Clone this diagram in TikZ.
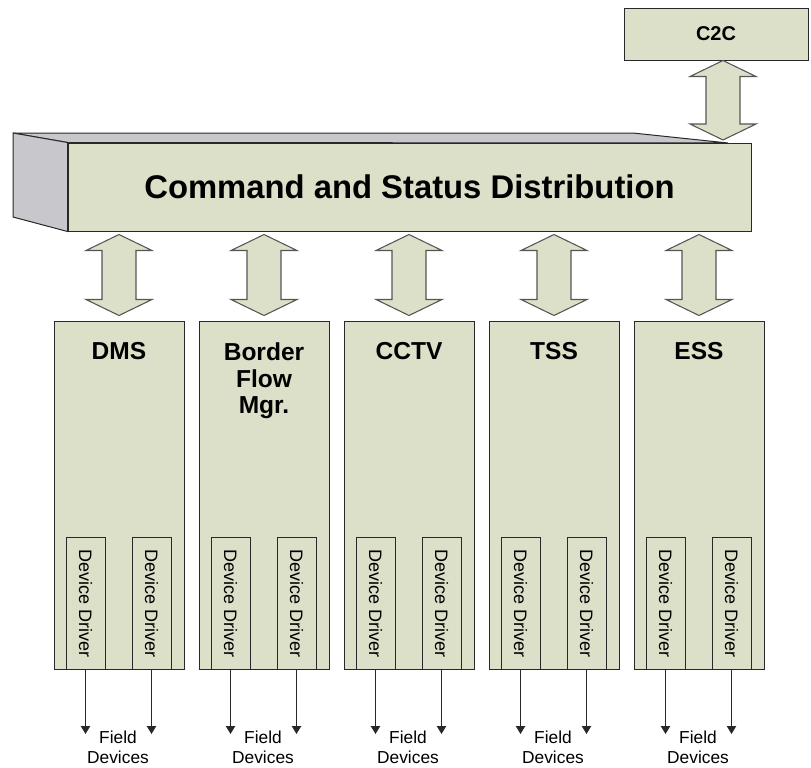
\documentclass[tikz,border=0pt]{standalone}
\usepackage{fontspec}
\setmainfont{Liberation Sans}
\usetikzlibrary{arrows.meta,calc}
\definecolor{boxfill}{RGB}{220,224,200}
\definecolor{sidefill}{RGB}{200,200,204}
\definecolor{edge}{RGB}{40,40,40}
\definecolor{arrowedge}{RGB}{85,85,85}
\newcommand\blockarrow[2]{%
  \filldraw[barrow] let \p1=(#1), \p2=(#2) in
  (\x1,\y1) -- (\x1+24.75pt,\y1-12pt) -- (\x1+12.75pt,\y1-12pt) --
  (\x2+12.75pt,\y2+12pt) -- (\x2+24.75pt,\y2+12pt) -- (\x2,\y2) --
  (\x2-24.75pt,\y2+12pt) -- (\x2-12.75pt,\y2+12pt) --
  (\x1-12.75pt,\y1-12pt) -- (\x1-24.75pt,\y1-12pt) -- cycle;}
\tikzset{
  x=0.75pt, y=-0.75pt,
  barrow/.style={draw=arrowedge, fill=boxfill, line width=0.8pt, line join=miter},
  sideface/.style={draw=edge, fill=sidefill, line width=0.75pt},
  mainbox/.style={draw=edge, fill=boxfill, line width=0.75pt,
    minimum width=683*0.75pt, minimum height=88*0.75pt, inner sep=0pt,
    font=\fontsize{24.6}{28}\selectfont\bfseries},
  c2cbox/.style={draw=edge, fill=boxfill, line width=0.75pt,
    minimum width=184*0.75pt, minimum height=52*0.75pt, inner sep=0pt,
    font=\fontsize{15}{18}\selectfont\bfseries},
  subbox/.style={draw=edge, fill=boxfill, line width=0.75pt,
    minimum width=130*0.75pt, minimum height=348*0.75pt, inner sep=0pt},
  subtitle/.style={anchor=north, inner sep=0pt, align=center,
    font=\fontsize{18.4}{20}\selectfont\bfseries},
  ddbox/.style={draw=edge, fill=boxfill, line width=0.75pt,
    minimum width=39*0.75pt, minimum height=132*0.75pt, inner sep=0pt},
  ddtext/.style={rotate=-90, inner sep=0pt, font=\fontsize{13.5}{16}\selectfont},
  fieldarrow/.style={draw=edge, line width=0.8pt, -{Triangle[width=7pt,length=6pt]}},
  fieldtext/.style={anchor=north, inner sep=0pt, align=center,
    font=\fontsize{13}{15}\selectfont}
}
\begin{document}
\begin{tikzpicture}
\useasboundingbox (0,0) rectangle (811,768);
% main 3D box
\node[mainbox] (csd) at (409.5,187) {Command and Status Distribution};
\filldraw[sideface] (13,133) -- (633,133) -- (728,143) -- (csd.north west) -- cycle;
\filldraw[sideface] (13,133) -- (csd.north west) -- (csd.south west) -- (13,217) -- cycle;
\node[mainbox] at (csd) {Command and Status Distribution};
% C2C
\node[c2cbox] (c2c) at (716,34) {C2C};
\coordinate (c2cfoot) at (723,140);
\blockarrow{c2c.south -| c2cfoot}{c2cfoot}
% subsystems
\foreach \i/\nm/\ttl in {0/dms/DMS, 1/bfm/{Border\\Flow\\Mgr.}, 2/cctv/CCTV, 3/tss/TSS, 4/ess/ESS}{
  \node[subbox] (\nm) at (119+145*\i,495) {};
  \blockarrow{$(\nm.north |- csd.south)+(0,3)$}{$(\nm.north)+(0,-5)$}
  \node[subtitle] (\nm T) at ($(\nm.north)+(0,22)$) {\ttl};
  \node[ddbox] (\nm a) at ($(\nm.south)+(-33.5,-66)$) {};
  \node[ddtext] at (\nm a) {Device Driver};
  \node[ddbox] (\nm b) at ($(\nm.south)+(32.5,-66)$) {};
  \node[ddtext] at (\nm b) {Device Driver};
  \coordinate (\nm ae) at ($(\nm a.south)+(0,64)$);
  \coordinate (\nm be) at ($(\nm b.south)+(0,64)$);
  \draw[fieldarrow] (\nm a.south) -- (\nm ae);
  \draw[fieldarrow] (\nm b.south) -- (\nm be);
  \node[fieldtext] (\nm F) at ($(\nm.south)+(-1,61)$) {Field\\Devices};
}
\end{tikzpicture}
\end{document}
